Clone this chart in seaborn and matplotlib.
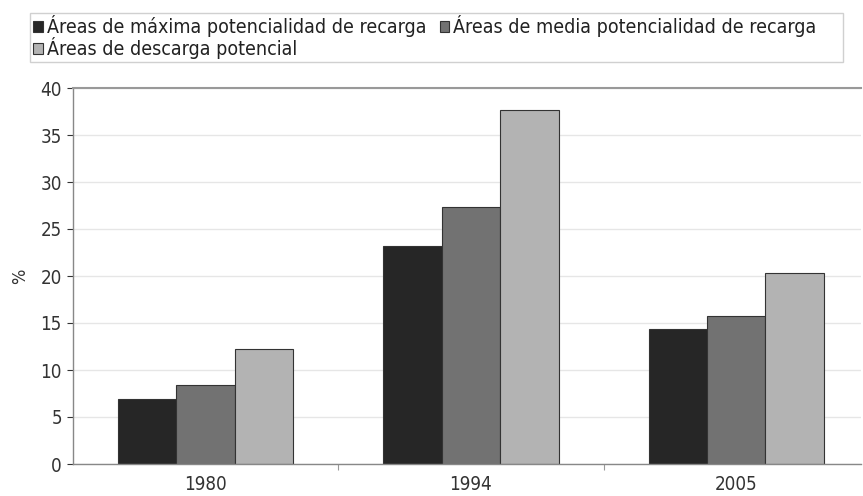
import matplotlib
matplotlib.use("Agg")
import matplotlib.pyplot as plt
import seaborn as sns
import pandas as pd
from matplotlib.patches import Rectangle

years = ["1980", "1994", "2005"]
series = ["Áreas de máxima potencialidad de recarga",
          "Áreas de media potencialidad de recarga",
          "Áreas de descarga potencial"]
maxima = [6.9, 23.2, 14.4]
media = [8.4, 27.3, 15.7]
descarga = [12.2, 37.7, 20.3]
yticks = [0, 5, 10, 15, 20, 25, 30, 35, 40]
colors = ["#262626", "#727272", "#b3b3b3"]

rows = []
for s, vals in zip(series, [maxima, media, descarga]):
    for y, v in zip(years, vals):
        rows.append({"year": y, "serie": s, "value": v})
df = pd.DataFrame(rows)

sns.set_style("white")
plt.rcParams["font.family"] = ["DejaVu Sans"]
plt.rcParams["font.stretch"] = "condensed"

W, H = 863, 496
fig = plt.figure(figsize=(8.63, 4.96), dpi=100)
ax = fig.add_axes([73 / W, 32 / H, (861 - 73) / W, (464 - 88) / H])
sns.barplot(data=df, x="year", y="value", hue="serie", palette=colors,
            hue_order=series, order=years, width=0.66, ax=ax,
            edgecolor="#333333", linewidth=0.8, saturation=1, legend=True)

ax.set_ylim(0, 40)
ax.set_xlim(-0.5, 2.47)
ax.set_yticks(yticks)
ax.yaxis.grid(True, color="#e6e6e6", linewidth=1)
ax.set_axisbelow(True)
ax.set_xlabel("")
ax.set_ylabel("%", fontsize=13, color="#333333", labelpad=8)
ax.tick_params(axis="y", labelsize=13.5, colors="#333333", length=4, width=0.8, left=True, pad=4)
ax.tick_params(axis="x", labelsize=13.5, colors="#333333", length=0, pad=8)
ax.set_xticks([0.5, 1.5], minor=True)
ax.tick_params(axis="x", which="minor", length=4, width=0.8, color="#999999", bottom=True)
for sp in ["left", "bottom"]:
    ax.spines[sp].set_color("#888888")
    ax.spines[sp].set_linewidth(1)
ax.spines["top"].set_color("#999999")
ax.spines["top"].set_linewidth(1.5)
ax.spines["right"].set_visible(False)

handles, labels = ax.get_legend_handles_labels()
ax.get_legend().remove()
order = [0, 2, 1]
leg = fig.legend([handles[i] for i in order], [labels[i] for i in order],
                 ncol=2, loc="upper left",
                 bbox_to_anchor=(31 / W, 1 - 13 / H),
                 frameon=False, fontsize=14,
                 handlelength=0.5, handleheight=0.5, handletextpad=0.2,
                 columnspacing=0.7, labelspacing=0.0, borderpad=0.1,
                 borderaxespad=0)
for t in leg.get_texts():
    t.set_color("#222222")
fig.patches.append(Rectangle((30 / W, 1 - 62 / H), (843 - 30) / W, 49 / H,
                             transform=fig.transFigure, fill=False,
                             edgecolor="#d0d0d0", linewidth=1))

fig.savefig("out.png", dpi=100)
